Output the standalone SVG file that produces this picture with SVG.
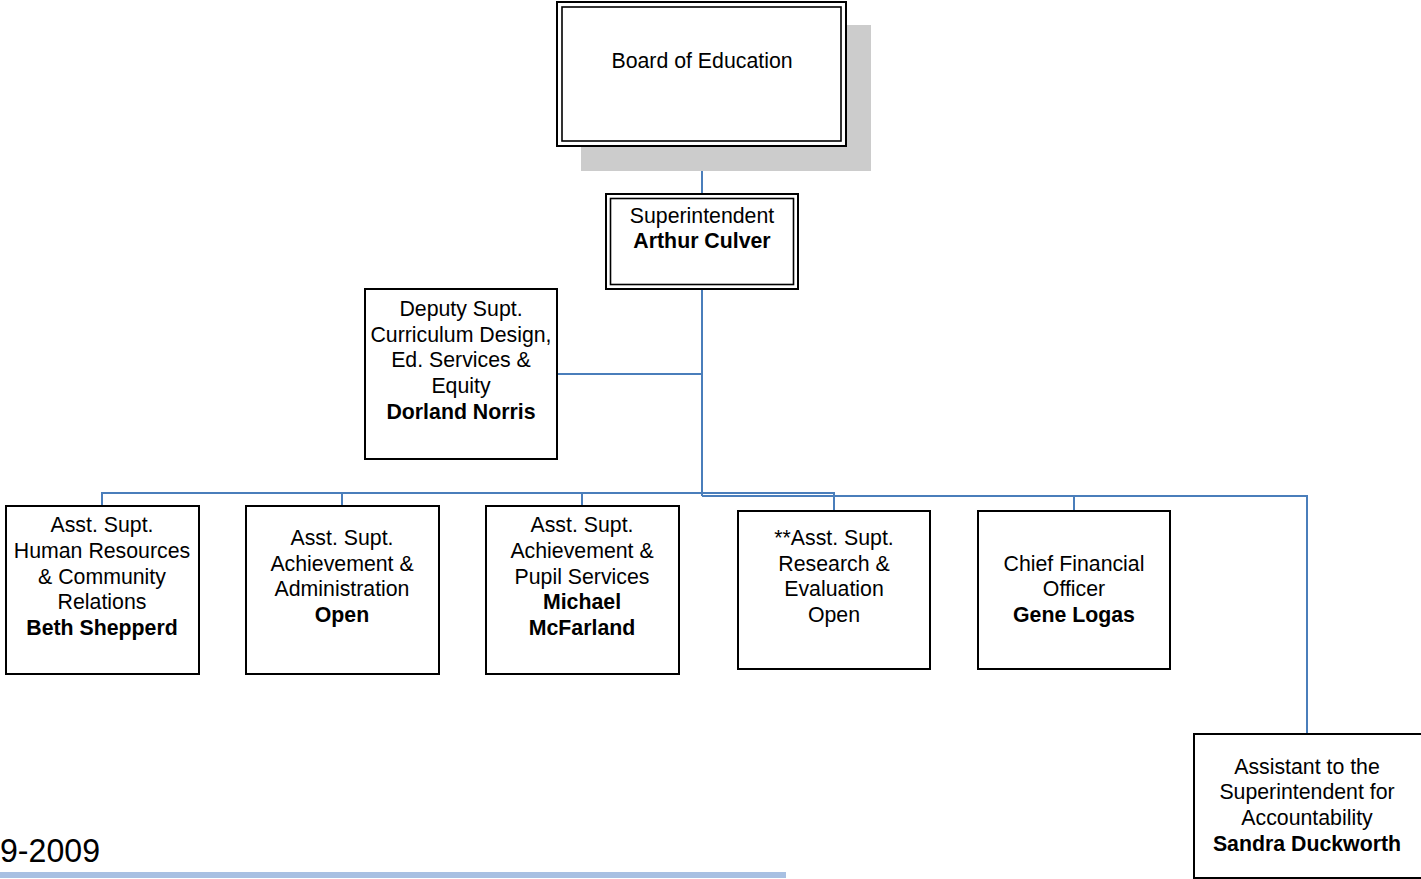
<svg xmlns="http://www.w3.org/2000/svg" width="1421" height="879" viewBox="0 0 1421 879">
<style>
.box{fill:#fff;stroke:#000;stroke-width:2}
.in{fill:none;stroke:#000;stroke-width:1.6}
.t{font-family:"Liberation Sans",Arial,sans-serif;font-size:21.3px;text-anchor:middle;fill:#000}
.b{font-weight:bold}
.c{fill:none;stroke:#4a7ebb;stroke-width:2}
</style>
<rect width="1421" height="879" fill="#fff"/>
<g id="connectors">
<path class="c" d="M702 146V193M702 289V496M558 374H702"/>
<path class="c" d="M102 506V493H834V511M342 493V506M582 493V506"/>
<path class="c" d="M702 496H1307V734M1074 496V523"/>
</g>
<g id="board">
<rect x="581" y="25" width="290" height="146" fill="#cccccc"/>
<rect class="box" x="557" y="2" width="289" height="144"/>
<rect class="in" x="562" y="7" width="279" height="134"/>
<text class="t" x="702" y="68">Board of Education</text>
</g>
<g id="superintendent">
<rect class="box" x="606" y="194" width="192" height="95"/>
<rect class="in" x="610.5" y="198.5" width="183" height="86"/>
<text class="t" x="702" y="223">Superintendent</text>
<text class="t b" x="702" y="248">Arthur Culver</text>
</g>
<g id="deputy">
<rect class="box" x="365" y="289" width="192" height="170"/>
<text class="t" x="461" y="316">Deputy Supt.</text>
<text class="t" x="461" y="342">Curriculum Design,</text>
<text class="t" x="461" y="367">Ed. Services &amp;</text>
<text class="t" x="461" y="393">Equity</text>
<text class="t b" x="461" y="419">Dorland Norris</text>
</g>
<g id="hr">
<rect class="box" x="6" y="506" width="193" height="168"/>
<text class="t" x="102" y="532">Asst. Supt.</text>
<text class="t" x="102" y="558">Human Resources</text>
<text class="t" x="102" y="584">&amp; Community</text>
<text class="t" x="102" y="609">Relations</text>
<text class="t b" x="102" y="635">Beth Shepperd</text>
</g>
<g id="admin">
<rect class="box" x="246" y="506" width="193" height="168"/>
<text class="t" x="342" y="545">Asst. Supt.</text>
<text class="t" x="342" y="571">Achievement &amp;</text>
<text class="t" x="342" y="596">Administration</text>
<text class="t b" x="342" y="622">Open</text>
</g>
<g id="pupil">
<rect class="box" x="486" y="506" width="193" height="168"/>
<text class="t" x="582" y="532">Asst. Supt.</text>
<text class="t" x="582" y="558">Achievement &amp;</text>
<text class="t" x="582" y="584">Pupil Services</text>
<text class="t b" x="582" y="609">Michael</text>
<text class="t b" x="582" y="635">McFarland</text>
</g>
<g id="research">
<rect class="box" x="738" y="511" width="192" height="158"/>
<text class="t" x="834" y="545">**Asst. Supt.</text>
<text class="t" x="834" y="571">Research &amp;</text>
<text class="t" x="834" y="596">Evaluation</text>
<text class="t" x="834" y="622">Open</text>
</g>
<g id="cfo">
<rect class="box" x="978" y="511" width="192" height="158"/>
<text class="t" x="1074" y="571">Chief Financial</text>
<text class="t" x="1074" y="596">Officer</text>
<text class="t b" x="1074" y="622">Gene Logas</text>
</g>
<g id="accountability">
<rect class="box" x="1194" y="734" width="232" height="144"/>
<text class="t" x="1307" y="774">Assistant to the</text>
<text class="t" x="1307" y="799">Superintendent for</text>
<text class="t" x="1307" y="825">Accountability</text>
<text class="t b" x="1307" y="851">Sandra Duckworth</text>
</g>
<g id="footer">
<text x="0" y="862" font-family="&quot;Liberation Sans&quot;,Arial,sans-serif" font-size="33" textLength="100" lengthAdjust="spacingAndGlyphs">9-2009</text>
<rect x="0" y="872" width="786" height="6" fill="#a8c0e2"/>
</g>
</svg>
